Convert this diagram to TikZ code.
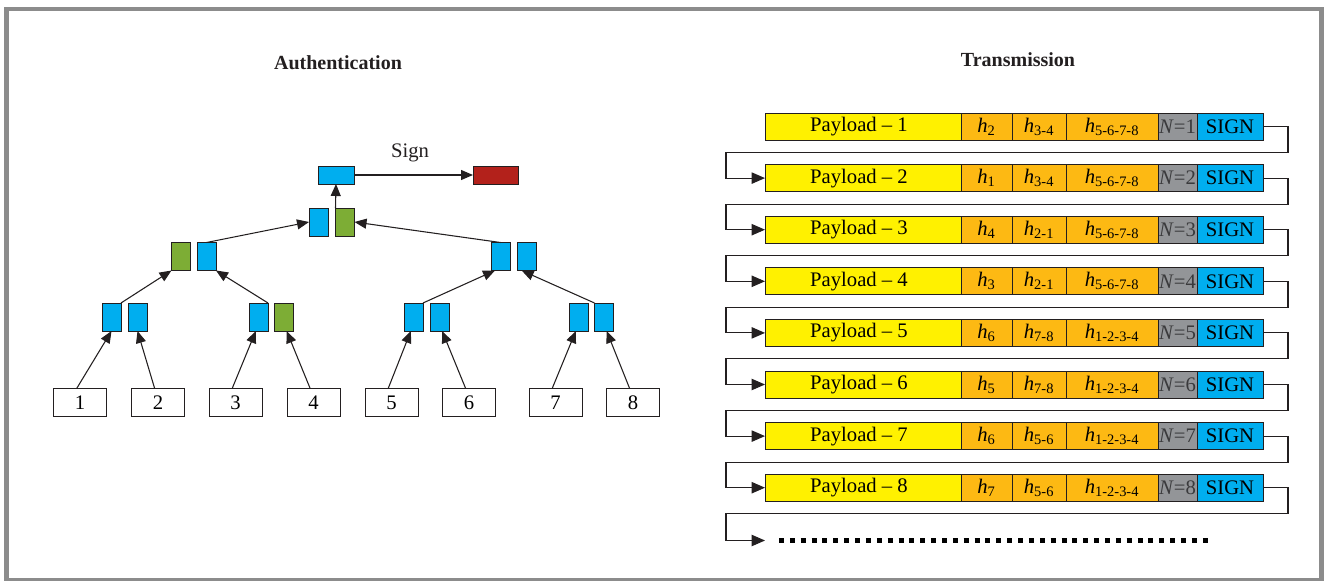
\documentclass[tikz,border=0pt]{standalone}
\usepackage{fontspec}
\setmainfont{Liberation Serif}
\usetikzlibrary{arrows.meta,positioning,calc}
\definecolor{FrameGray}{HTML}{8C8C8C}
\definecolor{HashBlue}{HTML}{00AEEF}
\definecolor{HashGreen}{HTML}{7DAD35}
\definecolor{SignRed}{HTML}{B3211B}
\definecolor{PayYellow}{HTML}{FFF100}
\definecolor{HashOrange}{HTML}{FDB913}
\definecolor{CountGray}{HTML}{939598}
\definecolor{CountText}{HTML}{3A3A3C}
\definecolor{EdgeColor}{HTML}{231F20}
\tikzset{
	box/.style={draw=EdgeColor, line width=0.6pt, inner sep=0pt, outer sep=0pt, font=\fontsize{15.5}{17}\selectfont},
	leafbox/.style={box, fill=white, minimum width=39.75pt, minimum height=21pt},
	hashbox/.style={box, fill=#1, minimum width=14.25pt, minimum height=21pt},
	rootbox/.style={box, fill=#1, minimum height=13.5pt},
	cell/.style={box, minimum height=20.25pt},
	edge/.style={-{Triangle[length=9pt,width=7.5pt]}, line width=0.8pt, draw=EdgeColor},
	flow/.style={-{Triangle[length=10pt,width=8.5pt]}, line width=0.8pt, draw=EdgeColor},
	title/.style={font=\bfseries\fontsize{15}{17}\selectfont, text=EdgeColor}
}
\newcommand{\hsub}[1]{\textit{h}\textsubscript{#1}}
\newcommand{\packetrow}[5]{%
	\node[cell, fill=PayYellow, minimum width=147pt] (pay#1) at (863,#2) {Payload -- #1\hspace*{6pt}};
	\node[cell, fill=HashOrange, minimum width=38.25pt, right=0pt of pay#1] (ha#1) {\hsub{#3}};
	\node[cell, fill=HashOrange, minimum width=40.5pt, right=0pt of ha#1] (hb#1) {\hsub{#4}};
	\node[cell, fill=HashOrange, minimum width=69pt, right=0pt of hb#1] (hc#1) {\hsub{#5}};
	\node[cell, fill=CountGray, text=CountText, minimum width=29.25pt, right=0pt of hc#1] (cnt#1) {\textit{N}=#1};
	\node[cell, fill=HashBlue, minimum width=49.5pt, right=0pt of cnt#1] (sig#1) {SIGN};
}
\newcommand{\rowlink}[2]{%
	\draw[flow] (sig#1.east) -- ++(25,0) -- ++(0,26) -| ($(pay#2.west)+(-39,0)$) -- (pay#2.west);
}

\begin{document}
\begin{tikzpicture}[x=0.75pt,y=-0.75pt]
	\useasboundingbox (0,0) rectangle (1324,581);
	\fill[white] (0,0) rectangle (1324,581);
	\draw[FrameGray, line width=3.4pt] (6.5,9) rectangle (1321.5,580.5);

	\node[title] (authtitle) at (338,63) {Authentication};
	\node[title] (trantitle) at (1018,60) {Transmission};

	% Leaves
	\node[leafbox] (leaf1) at (80,402.5) {1};
	\node[leafbox] (leaf2) at (158,402.5) {2};
	\node[leafbox] (leaf3) at (235.5,402.5) {3};
	\node[leafbox] (leaf4) at (313.5,402.5) {4};
	\node[leafbox] (leaf5) at (391.5,402.5) {5};
	\node[leafbox] (leaf6) at (469,402.5) {6};
	\node[leafbox] (leaf7) at (555.5,402.5) {7};
	\node[leafbox] (leaf8) at (633,402.5) {8};

	% Hash levels
	\node[hashbox=HashBlue] (a1) at (111.5,317) {};
	\node[hashbox=HashBlue] (a2) at (137.5,317) {};
	\node[hashbox=HashBlue] (b1) at (258.5,317) {};
	\node[hashbox=HashGreen] (b2) at (284,317) {};
	\node[hashbox=HashBlue] (c1) at (413.5,317) {};
	\node[hashbox=HashBlue] (c2) at (439.5,317) {};
	\node[hashbox=HashBlue] (d1) at (578.5,317) {};
	\node[hashbox=HashBlue] (d2) at (604,317) {};

	\node[hashbox=HashGreen] (e1) at (181,256.5) {};
	\node[hashbox=HashBlue] (e2) at (206.5,256.5) {};
	\node[hashbox=HashBlue] (f1) at (500.5,256.5) {};
	\node[hashbox=HashBlue] (f2) at (526.5,256.5) {};

	\node[hashbox=HashBlue] (g1) at (318.5,222) {};
	\node[hashbox=HashGreen] (g2) at (345,222) {};

	\node[rootbox=HashBlue, minimum width=27pt] (root) at (336,175) {};
	\node[rootbox=SignRed, minimum width=33.75pt] (sigred) at (495.5,175) {};
	\node[font=\fontsize{15.5}{17}\selectfont, text=EdgeColor] (signlabel) at (410,153) {Sign};

	% Tree edges
	\draw[edge] ([xshift=-2.5pt]leaf1.north) -- (a1.south);
	\draw[edge] ([xshift=-2.5pt]leaf2.north) -- (a2.south);
	\draw[edge] ([xshift=-2.5pt]leaf3.north) -- ([xshift=-2pt]b1.south);
	\draw[edge] ([xshift=-2.5pt]leaf4.north) -- ([xshift=2pt]b2.south);
	\draw[edge] ([xshift=-2.5pt]leaf5.north) -- ([xshift=-2pt]c1.south);
	\draw[edge] ([xshift=-2.5pt]leaf6.north) -- ([xshift=2pt]c2.south);
	\draw[edge] ([xshift=-2.5pt]leaf7.north) -- ([xshift=-2pt]d1.south);
	\draw[edge] ([xshift=-2.5pt]leaf8.north) -- ([xshift=2pt]d2.south);
	\draw[edge] (a1.north east) -- (e1.south west);
	\draw[edge] (b1.north east) -- (e2.south east);
	\draw[edge] (c1.north east) -- ([xshift=3pt]f1.south west);
	\draw[edge] (d2.north west) -- ([xshift=3.5pt]f2.south west);
	\draw[edge] (e2.north) -- (g1.west);
	\draw[edge] (f1.north) -- (g2.east);
	\draw[edge] (g2.north west) -- (root.south);
	\draw[edge] (root.east) -- (sigred.west);

	% Packet rows
	\packetrow{1}{126.5}{2}{3-4}{5-6-7-8}
	\packetrow{2}{178.1}{1}{3-4}{5-6-7-8}
	\packetrow{3}{229.7}{4}{2-1}{5-6-7-8}
	\packetrow{4}{281.3}{3}{2-1}{5-6-7-8}
	\packetrow{5}{332.9}{6}{7-8}{1-2-3-4}
	\packetrow{6}{384.5}{5}{7-8}{1-2-3-4}
	\packetrow{7}{436.1}{6}{5-6}{1-2-3-4}
	\packetrow{8}{487.7}{7}{5-6}{1-2-3-4}

	% Row links
	\rowlink{1}{2}
	\rowlink{2}{3}
	\rowlink{3}{4}
	\rowlink{4}{5}
	\rowlink{5}{6}
	\rowlink{6}{7}
	\rowlink{7}{8}
	\coordinate (more) at (765,540.5);
	\coordinate (dotsend) at (1208,540.5);
	\draw[flow] (sig8.east) -- ++(25,0) -- ++(0,26) -| ($(more)+(-39,0)$) -- (more);
	\draw[line width=3.75pt, dash pattern=on 3.75pt off 4.4pt, draw=black] ($(more)+(14,0)$) -- (dotsend);
\end{tikzpicture}
\end{document}
